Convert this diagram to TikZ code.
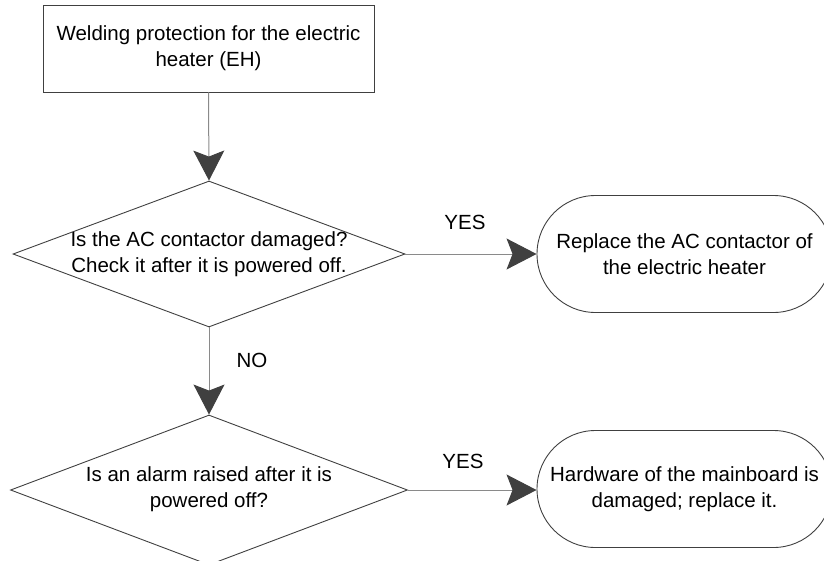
\documentclass[tikz,border=0pt]{standalone}
\usepackage{fontspec}
\setmainfont{Liberation Sans}
\usetikzlibrary{shapes.geometric,shapes.misc,arrows.meta}

\definecolor{edgegray}{HTML}{404040}
\definecolor{linkgray}{HTML}{8A8A8A}
\definecolor{headgray}{HTML}{404040}

\tikzset{
  every node/.style={font=\fontsize{20.5}{26}\selectfont, text=black},
  procbox/.style={draw=edgegray, line width=0.9pt, rectangle,
    minimum width=331pt, minimum height=87pt, inner sep=0pt},
  decision/.style={draw=edgegray, line width=0.9pt, diamond, inner sep=0pt},
  endbox/.style={draw=edgegray, line width=0.9pt, rounded rectangle,
    minimum width=295pt, minimum height=117pt, inner sep=0pt},
  txt/.style={align=center, inner sep=0pt},
  link/.style={draw=linkgray, line width=1pt,
    -{Stealth[length=30pt, width=31pt, inset=6pt, color=headgray]}},
  tag/.style={inner sep=0pt}
}

\begin{document}
\begin{tikzpicture}[x=1pt, y=-1pt]
  \useasboundingbox (0,0) rectangle (824,560);

  % start box
  \node[procbox, align=center] (start) at (208.5,48.5)
    {Welding protection for the electric\\heater (EH)};

  % first decision
  \node[decision, minimum width=392pt, minimum height=146pt, aspect=2.68] (q1) at (209,254) {};
  \node[txt] (q1t) at (209,254.5) {Is the AC contactor damaged?\\Check it after it is powered off.};

  % second decision
  \node[decision, minimum width=397pt, minimum height=150pt, aspect=2.65] (q2) at (209,490) {};
  \node[txt] (q2t) at (209,489) {Is an alarm raised after it is\\powered off?};

  % outcomes
  \node[endbox, align=center] (r1) at (684.5,254)
    {Replace the AC contactor of\\the electric heater};
  \node[endbox, align=center] (r2) at (684.5,489)
    {Hardware of the mainboard is\\damaged; replace it.};

  % connectors
  \draw[link] (start.south) -- (q1.north);
  \draw[link] (q1.east) -- (r1.west);
  \draw[link] (q1.south) -- (q2.north);
  \draw[link] (q2.east) -- (q2.east -| r2.west);

  % branch labels
  \node[tag] (yes1) at (465,222.5) {YES};
  \node[tag] (no1) at (252,360) {NO};
  \node[tag] (yes2) at (463,461.5) {YES};
\end{tikzpicture}
\end{document}
